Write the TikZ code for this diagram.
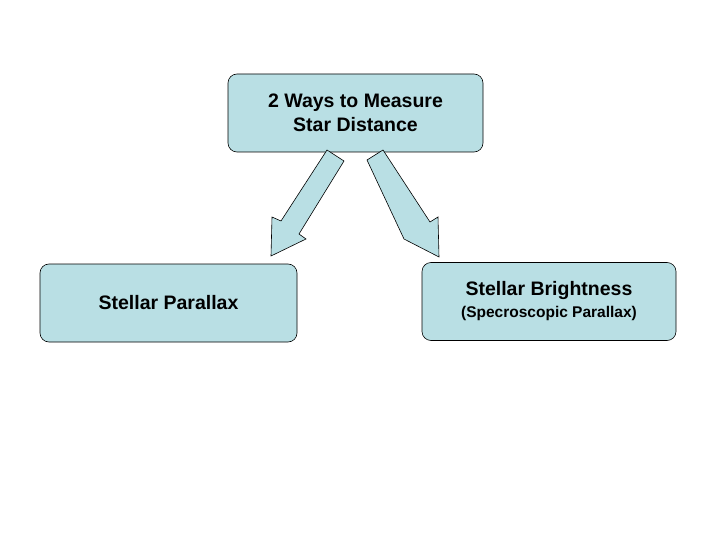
\documentclass[tikz,border=0pt]{standalone}
\usepackage{fontspec}
\setmainfont{Liberation Sans}
\definecolor{boxfill}{HTML}{B9DFE4}
\begin{document}
\begin{tikzpicture}[x=1pt,y=-1pt,
  card/.style={draw=black,fill=boxfill,rounded corners=9pt,minimum width=255pt,minimum height=78pt,align=center,font=\bfseries\fontsize{19.5}{24}\selectfont,line width=0.6pt},
  blockarrow/.style={draw=black,fill=boxfill,line width=0.6pt}]
\useasboundingbox (0,0) rectangle (720,540);
\node[card] (top) at (355.5,113) {2 Ways to Measure\\Star Distance};
\node[card,minimum width=257pt] (left) at (168.5,303) {Stellar Parallax};
\node[card,minimum width=254pt] (right) at (549,301.5) {Stellar Brightness\\[-2pt]{\fontsize{15.5}{18}\selectfont(Specroscopic Parallax)}};
\draw[blockarrow] (327,150) -- (344,161) -- (299,234) -- (306,239) -- (271,256) -- (272,217) -- (281,221) -- cycle;
\draw[blockarrow] (383,150) -- (367,160) -- (404,239) -- (439,257) -- (438,217) -- (430,222) -- cycle;
\end{tikzpicture}
\end{document}
